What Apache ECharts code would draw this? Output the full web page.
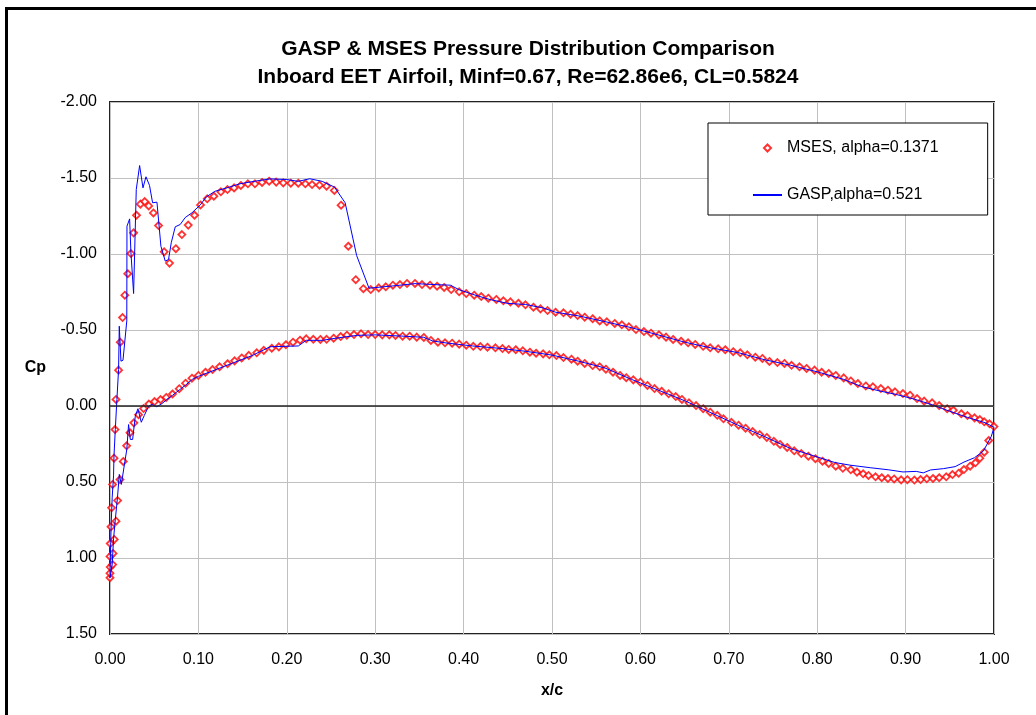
<!DOCTYPE html>
<html><head><meta charset="utf-8">
<script src="https://cdn.jsdelivr.net/npm/echarts@6/dist/echarts.min.js"></script>
<style>html,body{margin:0;padding:0;background:#fff}#c{width:1036px;height:715px}</style>
</head><body><div id="c"></div>
<script>
const chartTitle = ['GASP & MSES Pressure Distribution Comparison', 'Inboard EET Airfoil, Minf=0.67, Re=62.86e6, CL=0.5824'];
const xAxisName = 'x/c';
const yAxisName = 'Cp';
const seriesNames = ['MSES, alpha=0.1371', 'GASP,alpha=0.521'];

// MSES upper surface [x/c, Cp], leading edge to trailing edge
const msesUpper = [
[0.0000,1.130],[0.0000,1.100],[0.0003,1.060],[0.0000,0.990],[0.0003,0.905],[0.0011,0.795],[0.0018,0.670],
[0.0029,0.516],[0.0046,0.343],[0.0057,0.155],[0.0068,-0.043],[0.0097,-0.236],[0.0116,-0.420],[0.0142,-0.582],
[0.0168,-0.729],[0.0201,-0.870],[0.0237,-1.003],[0.0267,-1.139],[0.0300,-1.255],[0.0344,-1.328],[0.0393,-1.345],
[0.0438,-1.316],[0.0491,-1.270],[0.0549,-1.187],[0.0613,-1.014],[0.0673,-0.940],[0.0745,-1.035],[0.0813,-1.128],
[0.0885,-1.190],[0.0956,-1.255],[0.1024,-1.323],[0.1100,-1.363],[0.1175,-1.380],[0.1254,-1.409],[0.1329,-1.424],
[0.1404,-1.435],[0.1480,-1.451],[0.1560,-1.462],[0.1640,-1.462],[0.1720,-1.471],[0.1800,-1.479],[0.1880,-1.473],
[0.1960,-1.468],[0.2045,-1.466],[0.2130,-1.466],[0.2210,-1.462],[0.2286,-1.457],[0.2370,-1.453],[0.2450,-1.446],
[0.2538,-1.418],[0.2614,-1.321],[0.2696,-1.051],[0.2780,-0.831],[0.2866,-0.772],[0.2950,-0.766],[0.3040,-0.777],
[0.3120,-0.784],[0.3200,-0.795],[0.3280,-0.799],[0.3360,-0.806],[0.3450,-0.806],[0.3530,-0.799],[0.3620,-0.795],
[0.3700,-0.788],[0.3780,-0.780],[0.3860,-0.766],[0.3950,-0.751],[0.4030,-0.740],[0.4120,-0.729],[0.4200,-0.720],
[0.4280,-0.709],[0.4370,-0.701],[0.4450,-0.692],[0.4530,-0.685],[0.4620,-0.676],[0.4700,-0.666],[0.4790,-0.650],
[0.4870,-0.639],[0.4950,-0.628],[0.5040,-0.617],[0.5130,-0.613],[0.5210,-0.604],[0.5290,-0.595],[0.5370,-0.584],
[0.5460,-0.574],[0.5540,-0.560],[0.5620,-0.554],[0.5710,-0.543],[0.5790,-0.534],[0.5870,-0.521],[0.5950,-0.503],
[0.6040,-0.490],[0.6120,-0.479],[0.6210,-0.468],[0.6290,-0.453],[0.6370,-0.438],[0.6460,-0.426],[0.6540,-0.416],
[0.6620,-0.405],[0.6710,-0.393],[0.6790,-0.383],[0.6880,-0.376],[0.6960,-0.370],[0.7050,-0.357],[0.7130,-0.350],
[0.7210,-0.337],[0.7300,-0.321],[0.7380,-0.313],[0.7460,-0.293],[0.7550,-0.286],[0.7630,-0.280],[0.7710,-0.268],
[0.7800,-0.258],[0.7880,-0.247],[0.7970,-0.236],[0.8050,-0.222],[0.8130,-0.214],[0.8210,-0.201],[0.8300,-0.185],
[0.8380,-0.165],[0.8460,-0.148],[0.8550,-0.132],[0.8630,-0.126],[0.8720,-0.115],[0.8800,-0.104],[0.8880,-0.093],
[0.8970,-0.082],[0.9050,-0.071],[0.9130,-0.049],[0.9210,-0.032],[0.9300,-0.021],[0.9380,-0.003],[0.9470,0.018],
[0.9540,0.028],[0.9630,0.051],[0.9700,0.063],[0.9780,0.078],[0.9840,0.089],[0.9890,0.104],[0.9950,0.117],[1.0000,0.135]
];

// MSES lower surface [x/c, Cp], leading edge to trailing edge
const msesLower = [
[0.0030,1.043],[0.0034,0.970],[0.0048,0.878],[0.0068,0.758],[0.0086,0.622],[0.0113,0.484],[0.0150,0.365],
[0.0188,0.262],[0.0226,0.176],[0.0270,0.111],[0.0323,0.057],[0.0380,0.017],[0.0440,-0.013],[0.0504,-0.029],
[0.0572,-0.042],[0.0636,-0.056],[0.0707,-0.079],[0.0783,-0.114],[0.0855,-0.150],[0.0927,-0.183],[0.1000,-0.201],
[0.1080,-0.222],[0.1160,-0.240],[0.1240,-0.258],[0.1330,-0.278],[0.1410,-0.297],[0.1490,-0.316],[0.1570,-0.333],
[0.1660,-0.350],[0.1740,-0.366],[0.1830,-0.380],[0.1910,-0.389],[0.1990,-0.403],[0.2070,-0.420],[0.2150,-0.433],
[0.2220,-0.442],[0.2300,-0.439],[0.2380,-0.438],[0.2450,-0.439],[0.2530,-0.446],[0.2610,-0.457],[0.2680,-0.466],
[0.2760,-0.470],[0.2840,-0.475],[0.2920,-0.470],[0.3000,-0.470],[0.3080,-0.468],[0.3160,-0.468],[0.3230,-0.464],
[0.3310,-0.459],[0.3390,-0.459],[0.3470,-0.453],[0.3550,-0.451],[0.3630,-0.431],[0.3710,-0.420],[0.3790,-0.416],
[0.3870,-0.413],[0.3950,-0.407],[0.4030,-0.400],[0.4110,-0.393],[0.4190,-0.391],[0.4270,-0.387],[0.4360,-0.383],
[0.4440,-0.378],[0.4510,-0.372],[0.4590,-0.370],[0.4670,-0.363],[0.4750,-0.354],[0.4820,-0.347],[0.4900,-0.343],
[0.4970,-0.337],[0.5050,-0.332],[0.5130,-0.319],[0.5220,-0.308],[0.5290,-0.295],[0.5370,-0.280],[0.5460,-0.266],
[0.5540,-0.258],[0.5610,-0.242],[0.5690,-0.222],[0.5770,-0.201],[0.5840,-0.186],[0.5920,-0.172],[0.6000,-0.157],
[0.6080,-0.135],[0.6160,-0.115],[0.6240,-0.097],[0.6320,-0.080],[0.6400,-0.062],[0.6470,-0.043],[0.6550,-0.021],
[0.6630,-0.003],[0.6710,0.018],[0.6790,0.041],[0.6870,0.061],[0.6940,0.084],[0.7030,0.107],[0.7110,0.126],
[0.7190,0.146],[0.7270,0.168],[0.7350,0.188],[0.7430,0.207],[0.7510,0.232],[0.7580,0.253],[0.7660,0.273],
[0.7740,0.295],[0.7820,0.313],[0.7900,0.330],[0.7980,0.347],[0.8060,0.363],[0.8130,0.378],[0.8210,0.396],
[0.8290,0.410],[0.8380,0.420],[0.8450,0.435],[0.8520,0.446],[0.8580,0.457],[0.8660,0.466],[0.8730,0.472],
[0.8800,0.477],[0.8870,0.480],[0.8950,0.486],[0.9020,0.485],[0.9100,0.487],[0.9170,0.484],[0.9240,0.479],
[0.9310,0.477],[0.9380,0.472],[0.9460,0.466],[0.9530,0.451],[0.9600,0.442],[0.9660,0.418],[0.9730,0.396],
[0.9790,0.374],[0.9840,0.343],[0.9890,0.304],[0.9940,0.227]
];

// GASP upper surface [x/c, Cp], trailing edge to leading edge
const gaspUpper = [
[1.000,0.140],[0.990,0.110],[0.970,0.075],[0.950,0.035],[0.930,-0.008],[0.910,-0.045],[0.890,-0.075],
[0.870,-0.100],[0.850,-0.128],[0.830,-0.175],[0.800,-0.225],[0.770,-0.268],[0.740,-0.305],[0.710,-0.352],
[0.680,-0.382],[0.650,-0.420],[0.620,-0.468],[0.590,-0.515],[0.560,-0.555],[0.530,-0.593],[0.504,-0.617],
[0.490,-0.645],[0.470,-0.668],[0.450,-0.675],[0.430,-0.700],[0.410,-0.735],[0.395,-0.765],[0.385,-0.795],
[0.370,-0.798],[0.345,-0.805],[0.320,-0.790],[0.293,-0.775],[0.279,-0.990],[0.266,-1.337],[0.254,-1.440],
[0.240,-1.478],[0.226,-1.495],[0.213,-1.478],[0.200,-1.490],[0.181,-1.494],[0.166,-1.481],[0.147,-1.462],
[0.132,-1.435],[0.119,-1.413],[0.109,-1.376],[0.102,-1.322],[0.0927,-1.271],[0.0851,-1.240],[0.0794,-1.194],
[0.0738,-1.179],[0.0693,-1.074],[0.0662,-0.964],[0.0625,-0.953],[0.0576,-1.051],[0.0531,-1.341],[0.0482,-1.337],
[0.0447,-1.451],[0.0407,-1.508],[0.0373,-1.435],[0.0335,-1.582],[0.0297,-1.424],[0.0267,-0.740],[0.0237,-1.008],
[0.0222,-1.231],[0.0192,-1.183],[0.0190,-0.560],[0.0172,-0.547],[0.0147,-0.301],[0.0124,-0.295],[0.0105,-0.525],
[0.0097,-0.240],[0.0078,-0.043],[0.0060,0.155],[0.0045,0.330],[0.0040,0.460],[0.0025,0.600],[0.0015,0.750],
[0.0008,0.900],[0.0002,1.050],[0.0000,1.130]
];

// GASP lower surface [x/c, Cp], leading edge to trailing edge
const gaspLower = [
[0.0025,1.040],[0.0040,0.874],[0.0060,0.747],[0.0085,0.600],[0.0105,0.450],[0.0128,0.516],[0.0143,0.527],
[0.0190,0.286],[0.0210,0.122],[0.0230,0.220],[0.0256,0.220],[0.0286,0.067],[0.0316,0.018],[0.0354,0.107],
[0.0388,0.062],[0.0437,0.001],[0.0474,-0.010],[0.0530,0.005],[0.0588,-0.016],[0.0644,-0.043],[0.0707,-0.070],
[0.0783,-0.105],[0.0860,-0.140],[0.0930,-0.175],[0.1000,-0.195],[0.1200,-0.240],[0.1400,-0.285],[0.1600,-0.330],
[0.1813,-0.390],[0.2130,-0.395],[0.2220,-0.432],[0.2400,-0.432],[0.2600,-0.450],[0.2800,-0.465],[0.3000,-0.468],
[0.3300,-0.460],[0.3550,-0.452],[0.3650,-0.428],[0.3800,-0.415],[0.4100,-0.395],[0.4400,-0.380],[0.4700,-0.360],
[0.5000,-0.335],[0.5300,-0.295],[0.5600,-0.250],[0.5900,-0.175],[0.6200,-0.105],[0.6500,-0.035],[0.6800,0.045],
[0.7100,0.125],[0.7400,0.200],[0.7700,0.280],[0.8000,0.335],[0.8200,0.372],[0.8370,0.389],[0.8600,0.406],
[0.8810,0.420],[0.8970,0.434],[0.9120,0.430],[0.9200,0.440],[0.9280,0.421],[0.9430,0.412],[0.9560,0.399],
[0.9660,0.369],[0.9780,0.340],[0.9880,0.296],[0.9970,0.199],[1.0000,0.140]
];

const FONT = '"Liberation Sans", Arial, sans-serif';
const chart = echarts.init(document.getElementById('c'), null, {renderer: 'canvas'});
chart.setOption({
  animation: false,
  backgroundColor: '#ffffff',
  textStyle: {fontFamily: FONT, color: '#000'},
  title: {
    text: chartTitle.join('\n'),
    left: 523, top: 30, textAlign: 'center',
    textStyle: {fontFamily: FONT, fontSize: 21, fontWeight: 'bold', color: '#000', lineHeight: 28}
  },
  graphic: [{
    type: 'rect', silent: true, z: 100,
    shape: {x: 6.5, y: 8.5, width: 2000, height: 2000},
    style: {fill: 'none', stroke: '#000', lineWidth: 3}
  }],
  legend: {
    left: 708, top: 123, orient: 'vertical',
    data: [
      {name: seriesNames[0], icon: 'path://M0,0M29,0M29,7M0,7M14.5,0L18,3.5L14.5,7L11,3.5Z'},
      {name: seriesNames[1], itemStyle: {opacity: 0}}
    ],
    itemWidth: 29, itemHeight: 7, itemGap: 31,
    padding: [17, 49, 12, 44],
    backgroundColor: '#fff', borderColor: '#000', borderWidth: 1,
    textStyle: {fontFamily: FONT, fontSize: 16, color: '#000'},
    selectedMode: false
  },
  grid: {left: 110, top: 102, width: 884, height: 532, show: true, borderColor: '#222', borderWidth: 2, backgroundColor: '#fff'},
  xAxis: {
    type: 'value', min: 0, max: 1, interval: 0.1,
    name: xAxisName, nameLocation: 'middle', nameGap: 49,
    nameTextStyle: {fontFamily: FONT, fontSize: 16, fontWeight: 'bold', color: '#000'},
    axisLine: {show: false}, axisTick: {show: false},
    axisLabel: {fontFamily: FONT, fontSize: 16, color: '#000', margin: 18, formatter: v => v.toFixed(2)},
    splitLine: {show: true, lineStyle: {color: '#c0c0c0', width: 1}}
  },
  yAxis: {
    type: 'value', min: -2, max: 1.5, interval: 0.5, inverse: true,
    name: yAxisName, nameLocation: 'middle', nameGap: 64, nameRotate: 0,
    nameTextStyle: {fontFamily: FONT, fontSize: 16, fontWeight: 'bold', color: '#000'},
    axisLine: {show: false}, axisTick: {show: false},
    axisLabel: {fontFamily: FONT, fontSize: 16, color: '#000', margin: 13, formatter: v => v.toFixed(2)},
    splitLine: {show: true, lineStyle: {color: '#c0c0c0', width: 1}}
  },
  series: [
    {
      name: seriesNames[0], type: 'scatter',
      data: msesUpper.concat(msesLower),
      symbol: 'diamond', symbolSize: 7,
      itemStyle: {color: '#fff', borderColor: '#ff0000', borderWidth: 1.8},
      z: 3
    },
    {
      name: seriesNames[1], type: 'line',
      data: gaspUpper.concat(gaspLower),
      symbol: 'none', smooth: false,
      lineStyle: {color: '#0000ff', width: 1},
      itemStyle: {color: 'rgba(0,0,255,0)'},
      z: 4,
      markLine: {
        silent: true, symbol: 'none', label: {show: false},
        lineStyle: {color: '#222', width: 1.5, type: 'solid'},
        data: [{yAxis: 0}]
      }
    }
  ]
});
</script></body></html>
